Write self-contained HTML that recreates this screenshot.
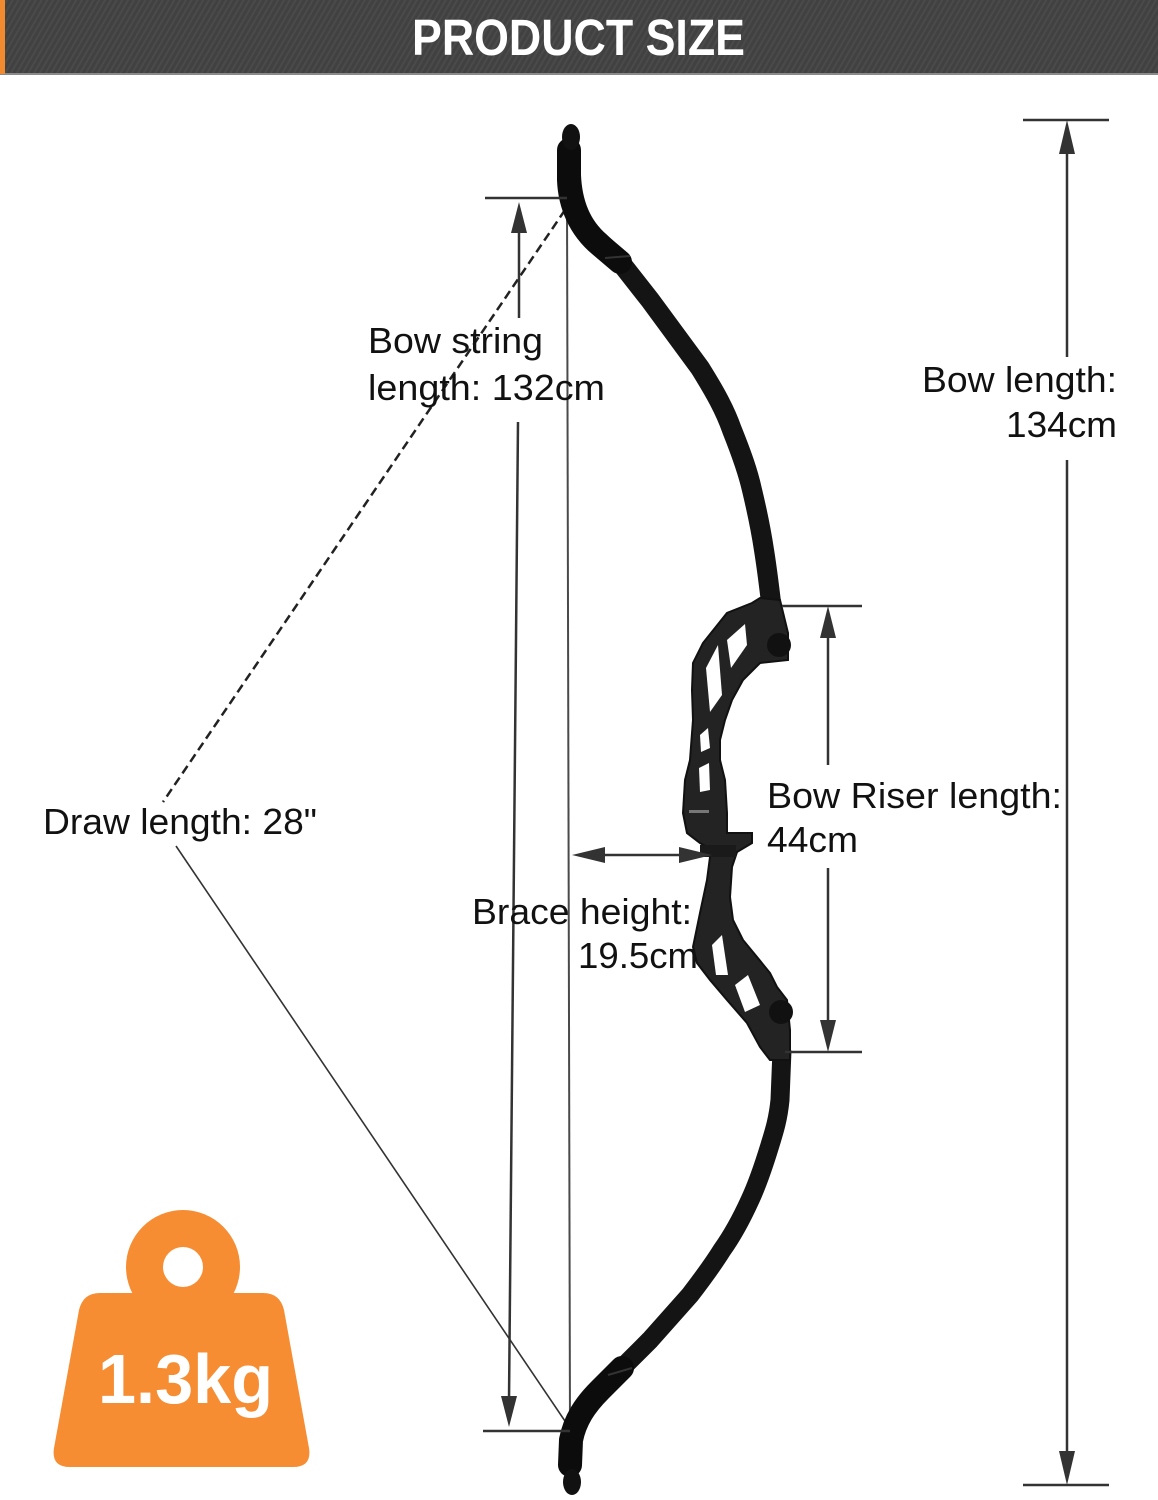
<!DOCTYPE html>
<html>
<head>
<meta charset="utf-8">
<style>
  html,body{margin:0;padding:0;background:#fff;}
  body{width:1158px;height:1500px;overflow:hidden;}
  svg{display:block;}
  .lbl{font-family:"Liberation Sans",Arial,sans-serif;font-size:36px;fill:#111;}
</style>
</head>
<body>
<svg width="1158" height="1500" viewBox="0 0 1158 1500" xmlns="http://www.w3.org/2000/svg">
  <defs>
    <pattern id="stripes" width="5" height="5" patternUnits="userSpaceOnUse" patternTransform="rotate(30)">
      <rect width="5" height="5" fill="#414141"/>
      <rect width="2" height="5" fill="#4a4a4a"/>
    </pattern>
  </defs>

  <!-- Header -->
  <rect x="0" y="0" width="1158" height="74" fill="url(#stripes)"/>
  <rect x="0" y="73" width="1158" height="2" fill="#8a8a8a"/>
  <rect x="0" y="0" width="5" height="74" fill="#f28a30"/>
  <text x="412" y="55" font-family="Liberation Sans, Arial, sans-serif" font-weight="bold" font-size="51" fill="#fff" textLength="333" lengthAdjust="spacingAndGlyphs">PRODUCT SIZE</text>

  <!-- Bow string -->
  <line x1="567" y1="198" x2="570" y2="1431" stroke="#4a4a4a" stroke-width="2"/>

  <!-- Draw length lines -->
  <line x1="565" y1="210" x2="163" y2="802" stroke="#222" stroke-width="2.5" stroke-dasharray="9 5"/>
  <line x1="176" y1="846" x2="569" y2="1427" stroke="#333" stroke-width="1.6"/>

  <!-- Upper limb -->
  <path d="M571,150 L571,175 C572,200 580,225 600,242 L617,258 L650,300 L700,368 C715,392 725,410 732,430 C742,455 748,472 752,490 C758,515 761,530 764,550 C768,575 770,595 772,610 L778,655"
        fill="none" stroke="#141414" stroke-width="20" stroke-linejoin="round"/>
  <path d="M569,150 L569,180 C570,205 580,228 600,245 L620,262" fill="none" stroke="#0c0c0c" stroke-width="24" stroke-linecap="round"/>
  <ellipse cx="571" cy="137" rx="9" ry="13" fill="#111"/>
  <line x1="605" y1="258" x2="630" y2="256" stroke="#333" stroke-width="2"/>

  <!-- Lower limb -->
  <path d="M782,1050 L780,1100 C778,1120 774,1132 770,1145 C763,1168 757,1185 750,1200 C740,1222 732,1236 722,1250 C712,1266 700,1282 690,1295 L650,1340 L620,1370"
        fill="none" stroke="#141414" stroke-width="19" stroke-linejoin="round"/>
  <path d="M622,1368 L600,1390 C585,1405 575,1420 571,1440 L570,1465" fill="none" stroke="#0c0c0c" stroke-width="24" stroke-linecap="round"/>
  <ellipse cx="572" cy="1482" rx="9" ry="13" fill="#111"/>
  <line x1="608" y1="1375" x2="632" y2="1368" stroke="#333" stroke-width="2"/>

  <!-- Riser -->
  <polygon fill="#232323" stroke="#111" stroke-width="2" points="
    752,603 727,613 703,643 693,663 692,690 693,720 690,760 685,780 683,813 687,833 700,843 712,850 710,857 707,880 700,913 693,947 697,963 710,980 727,1000 747,1023 760,1047 770,1060
    790,1060 790,1030 787,1000 777,987 770,973 757,957 743,940 733,920 730,897 732,867 737,852 752,843 752,833 727,833 727,813 725,780 720,760 720,740 725,720 732,700 743,680 760,663 788,660 788,633 780,600 760,598"/>
  <!-- riser cutouts -->
  <polygon fill="#fff" points="706,668 718,645 722,695 710,712"/>
  <polygon fill="#fff" points="727,640 745,624 747,645 731,668"/>
  <polygon fill="#fff" points="700,735 708,728 710,748 701,752"/>
  <polygon fill="#fff" points="699,768 709,763 710,790 700,792"/>
  <polygon fill="#fff" points="712,945 722,935 728,975 716,975"/>
  <polygon fill="#fff" points="735,985 748,975 760,1005 745,1012"/>
  <rect x="689" y="810" width="20" height="3" fill="#777"/>
  <rect x="700" y="845" width="36" height="12" fill="#1a1a1a"/>
  <circle cx="779" cy="645" r="12" fill="#111"/>
  <circle cx="781" cy="1012" r="12" fill="#111"/>

  <!-- Bow length dimension (right) -->
  <line x1="1023" y1="120" x2="1109" y2="120" stroke="#333" stroke-width="2.5"/>
  <line x1="1023" y1="1485" x2="1109" y2="1485" stroke="#333" stroke-width="2.5"/>
  <line x1="1067" y1="150" x2="1067" y2="357" stroke="#333" stroke-width="2.5"/>
  <line x1="1067" y1="460" x2="1067" y2="1455" stroke="#333" stroke-width="2.5"/>
  <polygon points="1067,120 1059,154 1075,154" fill="#333"/>
  <polygon points="1067,1485 1059,1451 1075,1451" fill="#333"/>

  <!-- Riser dimension -->
  <line x1="782" y1="606" x2="862" y2="606" stroke="#333" stroke-width="2.5"/>
  <line x1="785" y1="1052" x2="862" y2="1052" stroke="#333" stroke-width="2.5"/>
  <line x1="828" y1="634" x2="828" y2="765" stroke="#333" stroke-width="2.5"/>
  <line x1="828" y1="868" x2="828" y2="1024" stroke="#333" stroke-width="2.5"/>
  <polygon points="828,606 820,638 836,638" fill="#333"/>
  <polygon points="828,1052 820,1020 836,1020" fill="#333"/>

  <!-- Bow string dimension -->
  <line x1="485" y1="198" x2="567" y2="198" stroke="#333" stroke-width="2.5"/>
  <line x1="483" y1="1431" x2="570" y2="1431" stroke="#333" stroke-width="2.5"/>
  <line x1="519" y1="230" x2="519" y2="318" stroke="#333" stroke-width="2.5"/>
  <line x1="518" y1="422" x2="509" y2="1400" stroke="#333" stroke-width="2.5"/>
  <polygon points="519,202 511,233 527,233" fill="#333"/>
  <polygon points="509,1427 501,1396 517,1396" fill="#333"/>

  <!-- Brace height arrow -->
  <line x1="600" y1="855" x2="684" y2="855" stroke="#333" stroke-width="2.5"/>
  <polygon points="572,855 605,847 605,863" fill="#333"/>
  <polygon points="712,855 679,847 679,863" fill="#333"/>

  <!-- Labels -->
  <text class="lbl" x="368" y="353" textLength="175" lengthAdjust="spacingAndGlyphs">Bow string</text>
  <text class="lbl" x="368" y="400" textLength="237" lengthAdjust="spacingAndGlyphs">length: 132cm</text>
  <text class="lbl" x="922" y="392" textLength="195" lengthAdjust="spacingAndGlyphs">Bow length:</text>
  <text class="lbl" x="1006" y="437" textLength="111" lengthAdjust="spacingAndGlyphs">134cm</text>
  <text class="lbl" x="767" y="808" textLength="295" lengthAdjust="spacingAndGlyphs">Bow Riser length:</text>
  <text class="lbl" x="767" y="852" textLength="91" lengthAdjust="spacingAndGlyphs">44cm</text>
  <text class="lbl" x="43" y="834" textLength="274" lengthAdjust="spacingAndGlyphs">Draw length: 28"</text>
  <text class="lbl" x="472" y="924" textLength="220" lengthAdjust="spacingAndGlyphs">Brace height:</text>
  <text class="lbl" x="578" y="968" textLength="120" lengthAdjust="spacingAndGlyphs">19.5cm</text>

  <!-- Weight icon -->
  <circle cx="183" cy="1267" r="57" fill="#f78d33"/>
  <path d="M100,1293 L263,1293 Q280,1293 284,1310 L309,1448 Q312,1467 293,1467 L70,1467 Q51,1467 54,1448 L79,1310 Q83,1293 100,1293 Z" fill="#f78d33"/>
  <circle cx="183" cy="1267" r="20" fill="#fff"/>
  <text x="98" y="1403" font-family="Liberation Sans, Arial, sans-serif" font-weight="bold" font-size="70" fill="#fff" textLength="175" lengthAdjust="spacingAndGlyphs">1.3kg</text>
</svg>
</body>
</html>
